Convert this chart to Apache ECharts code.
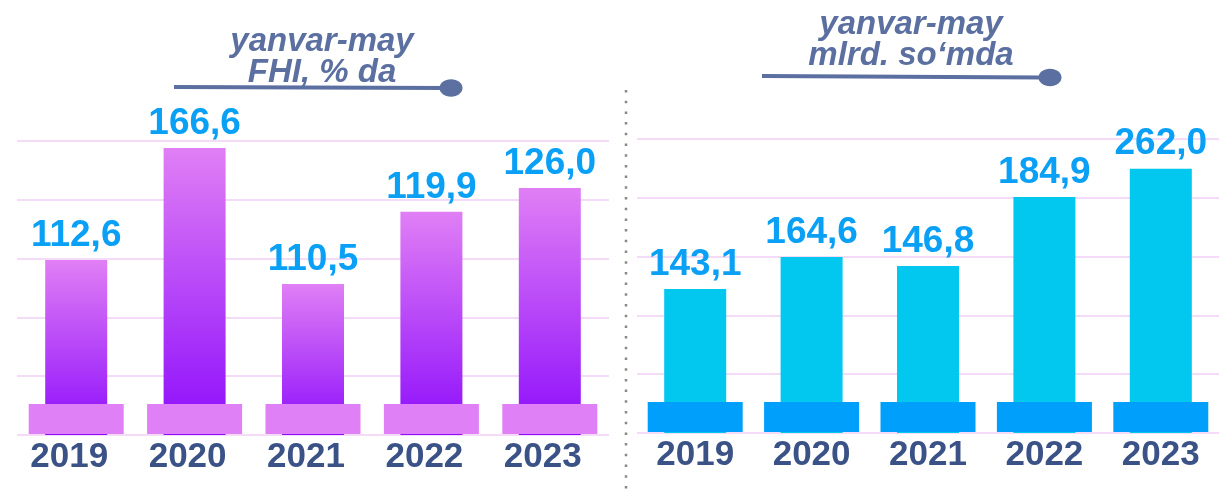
<!DOCTYPE html>
<html>
<head>
<meta charset="utf-8">
<script src="https://cdn.jsdelivr.net/npm/echarts@6/dist/echarts.min.js"></script>
<style>
	html, body { margin: 0; padding: 0; background: #fff; }
	#chart { width: 1219px; height: 490px; }
</style>
</head>
<body>
<div id="chart"></div>
<script>
	'use strict';

	var years = ['2019', '2020', '2021', '2022', '2023'];
	// FHI, % da (label values) and the bar heights as drawn in the picture (0-100 scale)
	var fhiPercent = [112.6, 166.6, 110.5, 119.9, 126.0];
	var fhiBarLevel = [59.5, 97.6, 51.4, 75.9, 84.0];
	// mlrd. so'mda (label values) and drawn bar heights
	var volumeBln = [143.1, 164.6, 146.8, 184.9, 262.0];
	var volumeBarLevel = [49.0, 59.9, 56.8, 80.3, 89.9];

	var font = '"Liberation Sans", Arial, sans-serif';
	var titleColor = '#5b70a0';

	function fmt(v) {
		return v.toFixed(1).replace('.', ',');
	}

	// wide block under every bar
	function plinth(color) {
		return function(params, api) {
			var p = api.coord([api.value(0), 0]);
			return {
				type: 'rect',
				shape: { x: p[0] - 47.5, y: p[1] - 31, width: 95, height: 30 },
				style: { fill: color }
			};
		};
	}

	function xAxis(gridIndex, shiftLeft) {
		return {
			type: 'category',
			gridIndex: gridIndex,
			data: years,
			axisLine: { show: false },
			axisTick: { show: false },
			axisLabel: {
				margin: 5,
				fontFamily: font,
				fontWeight: 'bold',
				fontSize: 35,
				color: '#3b5287',
				padding: [0, shiftLeft * 2, 0, 0]
			}
		};
	}

	function yAxis(gridIndex) {
		return {
			type: 'value',
			gridIndex: gridIndex,
			min: 0,
			max: 100,
			interval: 20,
			axisLabel: { show: false },
			axisLine: { show: false },
			axisTick: { show: false },
			splitLine: { lineStyle: { color: '#f4dbf8', width: 2 } }
		};
	}

	function valueLabel(values) {
		return {
			show: true,
			position: 'top',
			distance: 6,
			fontFamily: font,
			fontWeight: 'bold',
			fontSize: 37,
			color: '#0aa0f5',
			formatter: function(p) {
				return fmt(values[p.dataIndex]);
			}
		};
	}

	function titleStyle() {
		return {
			fontFamily: font,
			fontStyle: 'italic',
			fontWeight: 'bold',
			fontSize: 33,
			lineHeight: 31,
			color: titleColor
		};
	}

	var chart = echarts.init(document.getElementById('chart'), null, { renderer: 'canvas' });
	var option = {
		animation: false,
		title: [{
			text: 'yanvar-may\nFHI, % da',
			left: 317,
			top: 21,
			textAlign: 'center',
			textStyle: titleStyle()
		}, {
			text: 'yanvar-may\nmlrd. so‘mda',
			left: 906,
			top: 4,
			textAlign: 'center',
			textStyle: titleStyle()
		}],
		grid: [
			{ left: 17, right: 610, top: 141, bottom: 55 },
			{ left: 637, right: -9, top: 139, bottom: 57 }
		],
		xAxis: [xAxis(0, 7), xAxis(1, 0)],
		yAxis: [yAxis(0), yAxis(1)],
		series: [{
			name: 'FHI',
			type: 'bar',
			xAxisIndex: 0,
			yAxisIndex: 0,
			barWidth: 62,
			data: fhiBarLevel,
			itemStyle: {
				color: new echarts.graphic.LinearGradient(0, 0, 0, 1, [
					{ offset: 0, color: '#e07ff5' },
					{ offset: 1, color: '#8c0cfb' }
				])
			},
			label: valueLabel(fhiPercent)
		}, {
			type: 'custom',
			xAxisIndex: 0,
			yAxisIndex: 0,
			z: 3,
			renderItem: plinth('#e080f6'),
			data: years.map(function(y) { return [y, 0]; }),
			silent: true
		}, {
			name: 'mlrd',
			type: 'bar',
			xAxisIndex: 1,
			yAxisIndex: 1,
			barWidth: 62,
			data: volumeBarLevel,
			itemStyle: { color: '#02c8f0' },
			label: valueLabel(volumeBln)
		}, {
			type: 'custom',
			xAxisIndex: 1,
			yAxisIndex: 1,
			z: 3,
			renderItem: plinth('#009ffb'),
			data: years.map(function(y) { return [y, 0]; }),
			silent: true
		}],
		graphic: [
			// title underline + dot, left
			{ type: 'line', shape: { x1: 174, y1: 87, x2: 445, y2: 88 }, style: { stroke: titleColor, lineWidth: 4 } },
			{ type: 'ellipse', shape: { cx: 451, cy: 88, rx: 11.5, ry: 8.7 }, style: { fill: titleColor } },
			// title underline + dot, right
			{ type: 'line', shape: { x1: 762, y1: 76, x2: 1042, y2: 77.5 }, style: { stroke: titleColor, lineWidth: 4 } },
			{ type: 'ellipse', shape: { cx: 1050, cy: 77.5, rx: 11.5, ry: 8.7 }, style: { fill: titleColor } },
			// dotted separator
			{ type: 'line', shape: { x1: 626, y1: 90, x2: 626, y2: 490 }, style: { stroke: '#888', lineWidth: 2.5, lineDash: [2.5, 8.2] } }
		]
	};
	chart.setOption(option);
</script>
</body>
</html>
